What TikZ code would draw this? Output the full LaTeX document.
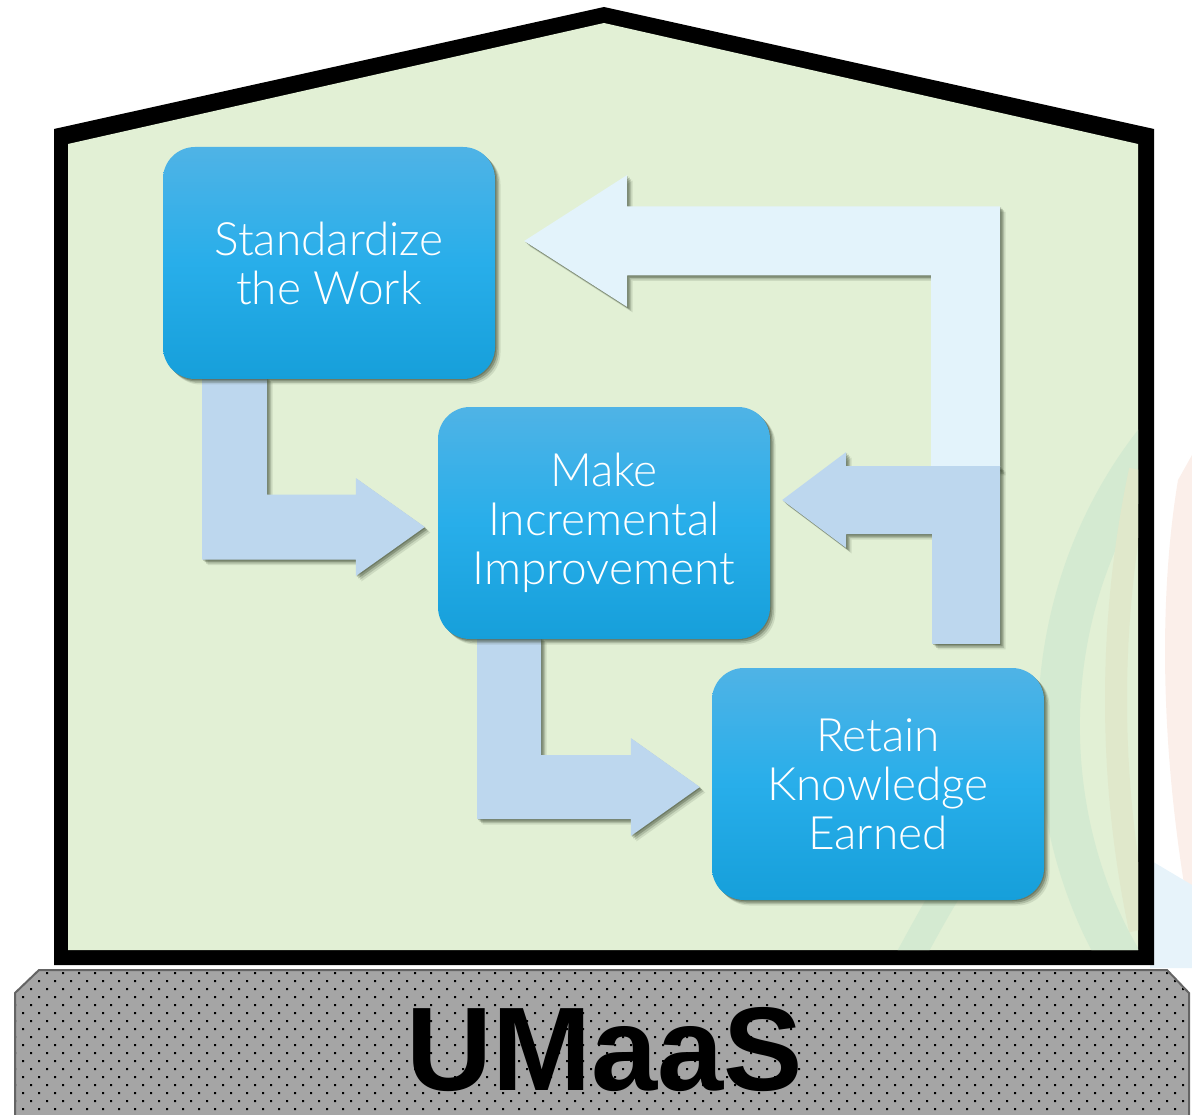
\documentclass[tikz,border=0pt]{standalone}
\usepackage{fontspec}
\setmainfont{Liberation Sans}
\newfontfamily\boxfont{Lato Light}
\usetikzlibrary{calc,shadows}

\definecolor{housegreen}{HTML}{E2F0D5}
\definecolor{bandgreen}{HTML}{D4EAD1}
\definecolor{bandyellow}{HTML}{E0E8CB}
\definecolor{arrowblue}{HTML}{BDD7EE}
\definecolor{arrowpale}{HTML}{E3F3FB}
\definecolor{boxtop}{HTML}{4FB3E6}
\definecolor{boxmid}{HTML}{28AEEA}
\definecolor{boxbot}{HTML}{169FDA}
\definecolor{basegray}{HTML}{A5A5A5}
\definecolor{baseedge}{HTML}{646464}
\definecolor{markpink}{HTML}{FBEFEA}
\definecolor{markblue}{HTML}{E7F3FA}
\definecolor{shadowtone}{HTML}{33402A}

\pgfdeclarelayer{back}
\pgfdeclarelayer{mid}
\pgfsetlayers{back,mid,main}

\tikzset{
  softshadow/.style={
    drop shadow={shadow xshift=5.5pt, shadow yshift=-5.5pt, fill=shadowtone, opacity=.12},
    drop shadow={shadow xshift=4pt, shadow yshift=-4pt, fill=shadowtone, opacity=.2},
    drop shadow={shadow xshift=2.5pt, shadow yshift=-2.5pt, fill=shadowtone, opacity=.3},
    drop shadow={shadow xshift=1pt, shadow yshift=-1pt, fill=shadowtone, opacity=.3}},
  stepbox/.style={rounded corners=32pt, minimum width=332pt, minimum height=232pt,
    inner sep=0pt, softshadow, top color=boxtop, bottom color=boxbot, middle color=boxmid,
    text=white, align=center, font=\boxfont\fontsize{46}{49}\selectfont},
  flowarrow/.style={softshadow, fill=arrowblue},
  returnarrow/.style={softshadow, fill=arrowpale},
  housewall/.style={fill=black},
  baseplate/.style={fill=basegray},
  baseline/.style={draw=baseedge, line width=2pt},
  basetext/.style={font=\bfseries\fontsize{119}{119}\selectfont, text=black}
}

% elbow arrow: stem from #1 going down, bar going right to tip #2
\newcommand\elbowDownRight[6]{%
  \path[#6] let \p1=(#1), \p2=(#2) in
    (\x1-#3,\y1) -- (\x1+#3,\y1) -- (\x1+#3,\y2+#3) -- (\x2-#5,\y2+#3)
    -- (\x2-#5,\y2+#4) -- (\x2,\y2) -- (\x2-#5,\y2-#4) -- (\x2-#5,\y2-#3)
    -- (\x1-#3,\y2-#3) -- cycle;}
% elbow arrow: stem from #1 going up, bar going left to tip #2
\newcommand\elbowUpLeft[6]{%
  \path[#6] let \p1=(#1), \p2=(#2) in
    (\x1-#3,\y1) -- (\x1+#3,\y1) -- (\x1+#3,\y2+#3) -- (\x2+#5,\y2+#3)
    -- (\x2+#5,\y2+#4) -- (\x2,\y2) -- (\x2+#5,\y2-#4) -- (\x2+#5,\y2-#3)
    -- (\x1-#3,\y2-#3) -- cycle;}

\begin{document}
\begin{tikzpicture}[x=1pt,y=-1pt]
\useasboundingbox (0,0) rectangle (1192,1115);

% process steps
\node[stepbox] (std) at (329,263) {Standardize\\the Work};
\node[stepbox] (inc) at (604,523) {Make\\Incremental\\Improvement};
\node[stepbox] (ret) at (878,784) {Retain\\Knowledge\\Earned};

\begin{pgfonlayer}{back}
  % faint emblem to the right of the house
  \fill[markpink] (1192,455) -- (1178,480) .. controls (1158,600) and (1160,760) .. (1192,930) -- cycle;
  \fill[markblue] (1150,860) -- (1192,885) -- (1192,968) -- (1150,968) -- cycle;

  % house outline and wall
  \fill[housewall] (54,965) -- (54,129) -- (604,7) -- (1154,129) -- (1154,965) -- cycle;
  \fill[housegreen] (68,950) -- (68,144) -- (604,23) -- (1138,144) -- (1138,950) -- cycle;
  \begin{scope}
    \clip (68,950) -- (68,144) -- (604,23) -- (1138,144) -- (1138,950) -- cycle;
    \draw[bandgreen, line width=42pt] (1165,430) .. controls (1030,590) and (1030,820) .. (1130,975);
    \draw[bandyellow, line width=22pt] (1140,470) .. controls (1108,620) and (1108,780) .. (1140,930);
    \draw[bandgreen, line width=28pt] (900,975) .. controls (925,930) and (945,890) .. (975,850);
  \end{scope}

  % foundation slab
  \fill[baseplate] (15,1120) -- (15,993) -- (39,970) -- (1167,970) -- (1189,993) -- (1189,1120) -- cycle;
  \begin{scope}
    \clip (16,1120) -- (16,993) -- (40,971) -- (1166,971) -- (1188,993) -- (1188,1120) -- cycle;
    \fill[black] \foreach \r in {0,...,17} {
      \foreach \c in {0,...,74} {
        ({14+16*\c+8*mod(\r,2)},{972+8*\r}) rectangle ++(2,2)
      }
    };
  \end{scope}
  \draw[baseline] (15,1120) -- (15,993) -- (39,970) -- (1167,970) -- (1189,993) -- (1189,1120);
\end{pgfonlayer}

\begin{pgfonlayer}{mid}
  \coordinate (loop) at ($(ret.north)+(87.5,-198)$);
  \elbowUpLeft{loop}{$(std.east)+(29,-22)$}{34.5pt}{66pt}{103pt}{returnarrow}
  \elbowUpLeft{$(ret.north)+(88,-24)$}{$(inc.east)+(12,-23)$}{34pt}{48pt}{64pt}{flowarrow}
  \elbowDownRight{$(std.south)+(-94.5,-2)$}{$(inc.west)+(-13,4)$}{32.5pt}{49pt}{69pt}{flowarrow}
  \elbowDownRight{$(inc.south)+(-95,-2)$}{$(ret.west)+(-12,3)$}{32pt}{49pt}{69pt}{flowarrow}
\end{pgfonlayer}

\node[basetext, anchor=base] (label) at (605,1090) {UMaaS};
\end{tikzpicture}
\end{document}
